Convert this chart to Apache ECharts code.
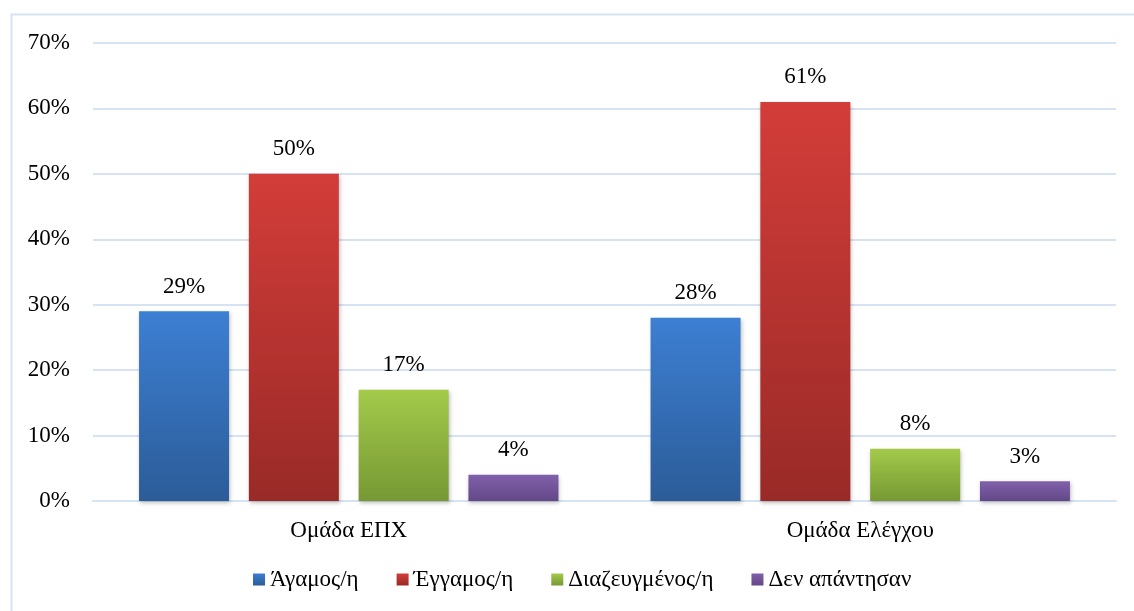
<!DOCTYPE html>
<html>
<head>
<meta charset="utf-8">
<script src="https://cdn.jsdelivr.net/npm/echarts@6/dist/echarts.min.js"></script>
<style>
html,body{margin:0;padding:0;background:#fff;}
#chart{width:1134px;height:611px;}
</style>
</head>
<body>
<div id="chart"></div>
<script>
const categories = ['Ομάδα ΕΠΧ', 'Ομάδα Ελέγχου'];
const seriesNames = ['Άγαμος/η', 'Έγγαμος/η', 'Διαζευγμένος/η', 'Δεν απάντησαν'];
const agamos = [29, 28];
const eggamos = [50, 61];
const diazeugmenos = [17, 8];
const denApantisan = [4, 3];
const yTicks = [0, 10, 20, 30, 40, 50, 60, 70];

const seriesValues = [agamos, eggamos, diazeugmenos, denApantisan];
const colorStops = [
  ['#3d7fd3', '#2b5c98'],
  ['#d33d39', '#992a27'],
  ['#a3ca4a', '#779834'],
  ['#8160ab', '#634887']
];
const font = "'Times New Roman', 'Liberation Serif', serif";

const chart = echarts.init(document.getElementById('chart'), null, {renderer: 'canvas'});
chart.setOption({
  animation: false,
  backgroundColor: '#ffffff',
  graphic: [{
    type: 'rect',
    shape: {x: 11.5, y: 14.5, width: 1140, height: 620},
    style: {fill: 'none', stroke: '#d6e3f4', lineWidth: 2},
    silent: true,
    z: -1
  }],
  grid: {left: 93, right: 18, top: 43, bottom: 110, containLabel: false},
  legend: {
    bottom: 15,
    left: 248,
    itemWidth: 12,
    itemHeight: 12,
    itemGap: 38,
    icon: 'rect',
    textStyle: {fontFamily: font, fontSize: 23, color: '#000'},
    data: seriesNames
  },
  xAxis: {
    type: 'category',
    data: categories,
    axisTick: {show: false},
    axisLine: {show: true, lineStyle: {color: '#d6e3f4', width: 2}},
    axisLabel: {fontFamily: font, fontSize: 23, color: '#000', margin: 18}
  },
  yAxis: {
    type: 'value',
    min: yTicks[0],
    max: yTicks[yTicks.length - 1],
    interval: 10,
    axisLine: {show: false},
    axisTick: {show: false},
    splitLine: {lineStyle: {color: '#d6e3f4', width: 2}},
    axisLabel: {fontFamily: font, fontSize: 23, color: '#000', margin: 23, formatter: v => v + '%'}
  },
  series: seriesNames.map((name, i) => ({
    name: name,
    type: 'bar',
    data: seriesValues[i],
    barWidth: 90,
    barGap: '22%',
    itemStyle: {
      color: new echarts.graphic.LinearGradient(0, 0, 0, 1, [
        {offset: 0, color: colorStops[i][0]},
        {offset: 1, color: colorStops[i][1]}
      ]),
      shadowColor: 'rgba(0,0,0,0.25)',
      shadowBlur: 4,
      shadowOffsetX: 1,
      shadowOffsetY: 2
    },
    label: {
      show: true,
      position: 'top',
      distance: 13,
      fontFamily: font,
      fontSize: 23,
      color: '#000',
      formatter: p => p.value + '%'
    }
  }))
});
</script>
</body>
</html>
